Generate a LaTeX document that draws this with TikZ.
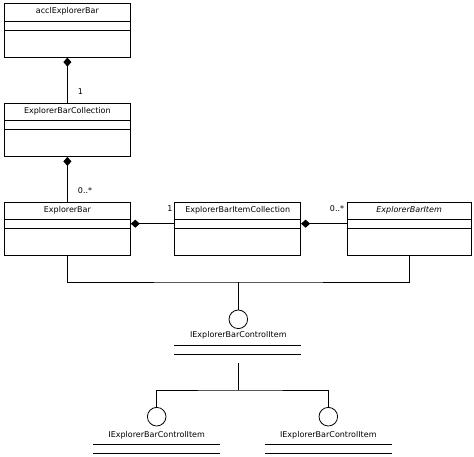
\documentclass[tikz,border=0pt]{standalone}
\usepackage{fontspec}
\setmainfont{DejaVu Sans}
\usetikzlibrary{arrows.meta}

\tikzset{
    umlclass/.style={draw, line width=0.8pt, anchor=north west, minimum width=126pt, minimum height=53.4pt, inner sep=0pt},
    umlname/.style={font=\fontsize{8}{9}\selectfont, inner sep=0pt},
    iface/.style={draw, line width=0.8pt, circle, minimum size=18.6pt, inner sep=0pt},
    comp/.style={line width=0.8pt, {Diamond[length=9pt,width=8pt]}-}
}

\begin{document}
\begin{tikzpicture}[x=1pt, y=-1pt, line width=0.8pt]
    \useasboundingbox (0,0) rectangle (474,457);
    % classes
    \node[umlclass] (acc) at (4,3.4) {};
    \node[umlclass] (coll) at (4,102.7) {};
    \node[umlclass] (bar) at (4,201.7) {};
    \node[umlclass] (itemcoll) at (174.3,201.7) {};
    \node[umlclass, minimum width=124pt] (item) at (346.7,201.7) {};
    \node[umlname] at ([yshift=-8.3pt]acc.north) {acclExplorerBar};
    \node[umlname] at ([yshift=-8.3pt]coll.north) {ExplorerBarCollection};
    \node[umlname] at ([yshift=-8.3pt]bar.north) {ExplorerBar};
    \node[umlname] at ([yshift=-8.3pt]itemcoll.north) {ExplorerBarItemCollection};
    \node[umlname] at ([yshift=-8.3pt]item.north) {\itshape ExplorerBarItem};
    \foreach \c in {acc,coll,bar,itemcoll,item} {
        \draw ([yshift=-18pt]\c.north west) -- ([yshift=-18pt]\c.north east);
        \draw ([yshift=-26.7pt]\c.north west) -- ([yshift=-26.7pt]\c.north east);
    }
    % compositions
    \draw[comp] (acc.south) -- (coll.north);
    \draw[comp] (coll.south) -- (bar.north);
    \draw[comp] ([yshift=-22pt]bar.north east) -- ([yshift=-22pt]itemcoll.north west);
    \draw[comp] ([yshift=-22pt]itemcoll.north east) -- ([yshift=-22pt]item.north west);
    \node[umlname] (m1) at (80.5,92) {1};
    \node[umlname] (m2) at (85,190.5) {0..*};
    \node[umlname] (m3) at (170,209) {1};
    \node[umlname] (m4) at (337,209) {0..*};
    % interfaces
    \node[iface] (ifc) at (238.3,319.3) {};
    \node[iface] (ifcl) at (156.7,416.7) {};
    \node[iface] (ifcr) at (328.3,416.7) {};
    \node[umlname] (ifcname) at (238.3,335.3) {IExplorerBarControlItem};
    \node[umlname] (ifclname) at (156.7,435.3) {IExplorerBarControlItem};
    \node[umlname] (ifcrname) at (328.3,435.3) {IExplorerBarControlItem};
    \draw (174.3,345.3) -- (300.7,345.3) (174.3,354.3) -- (300.7,354.3);
    \draw (93.3,444.3) -- (220,444.3) (93.3,453.3) -- (220,453.3);
    \draw (265,444.3) -- (391.7,444.3) (265,453.3) -- (391.7,453.3);
    % realisations
    \coordinate (join) at (238.3,282);
    \coordinate (stub) at (238.3,363.3);
    \coordinate (split) at (238.3,390);
    \draw (bar.south) |- (join) -| (item.south);
    \draw (join) -- (ifc.north);
    \draw (stub) -- (split);
    \draw (ifcl.north) |- (split) -| (ifcr.north);
\end{tikzpicture}
\end{document}
